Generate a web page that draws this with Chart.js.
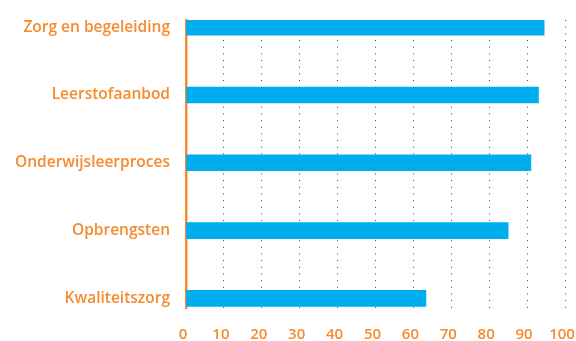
<!DOCTYPE html>
<html>
<head>
<meta charset="utf-8">
<script src="https://cdn.jsdelivr.net/npm/chart.js@4"></script>
<style>
  html, body { margin: 0; padding: 0; background: #fff; }
  #wrap { width: 576px; height: 341px; }
</style>
</head>
<body>
<div id="wrap"><canvas id="grafiek"></canvas></div>
<script>
// ── Data ─────────────────────────────
const categorieen = ['Zorg en begeleiding', 'Leerstofaanbod', 'Onderwijsleerproces', 'Opbrengsten', 'Kwaliteitszorg'];
const scores      = [94.5, 93, 91, 85, 63.3];
const xTicks      = [0, 10, 20, 30, 40, 50, 60, 70, 80, 90, 100];

const ORANJE = '#f68a2e';
const BLAUW  = '#00adef';
const FONT   = "'Open Sans', sans-serif";

const punten = scores.map((v, i) => ({ x: v, y: i }));

new Chart(document.getElementById('grafiek'), {
  type: 'bar',
  data: {
    datasets: [{
      data: punten,
      backgroundColor: BLAUW,
      borderWidth: 0,
      barThickness: 16
    }]
  },
  options: {
    indexAxis: 'y',
    responsive: true,
    maintainAspectRatio: false,
    animation: false,
    layout: { padding: { top: 20, right: 11, left: 0, bottom: 0 } },
    plugins: { legend: { display: false }, tooltip: { enabled: false } },
    scales: {
      x: {
        type: 'linear',
        min: 0, max: 100,
        z: 1,
        afterBuildTicks: s => { s.ticks = xTicks.map(v => ({ value: v })); },
        afterFit: s => { s.height = 33; s.paddingLeft = 0; s.paddingRight = 0; },
        border: { display: false, dash: [1, 5.67] },
        grid: {
          color: ctx => ctx.index === 0 ? 'rgba(0,0,0,0)' : '#444',
          lineWidth: 1,
          drawTicks: false
        },
        ticks: { color: ORANJE, font: { family: FONT, size: 15, weight: '600' }, padding: 18, labelOffset: -3, maxRotation: 0 }
      },
      y: {
        type: 'linear',
        reverse: true,
        offset: false,
        min: -0.106, max: 4.142,
        afterFit: s => { s.width = 186; s.paddingTop = 0; s.paddingBottom = 0; },
        border: { display: true, color: ORANJE, width: 2.5 },
        grid: { display: false, offset: false },
        ticks: {
          stepSize: 1,
          includeBounds: false,
          color: ORANJE,
          font: { family: FONT, size: 15.5, weight: '600' },
          padding: 8,
          callback: v => Number.isInteger(v) ? categorieen[v] : ''
        }
      }
    }
  }
});
</script>
</body>
</html>
